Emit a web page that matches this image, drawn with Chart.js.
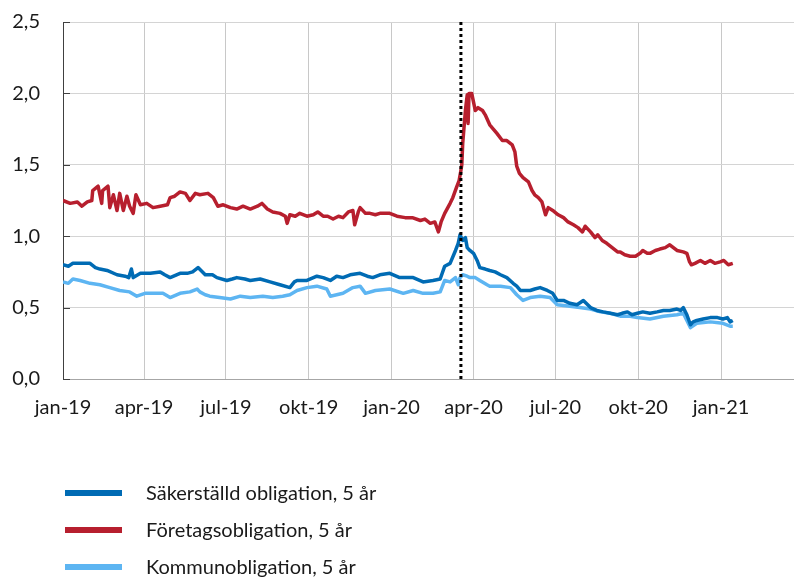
<!DOCTYPE html>
<html>
<head>
<meta charset="utf-8">
<script src="https://cdn.jsdelivr.net/npm/chart.js@4.4.1/dist/chart.umd.min.js"></script>
<style>
html,body{margin:0;padding:0;background:#fff;overflow:hidden}
canvas{display:block}
</style>
</head>
<body>
<canvas id="c" width="794" height="578"></canvas>
<script>
// x values: days since 2019-01-01
const tickDays   = [0, 90, 181, 273, 365, 456, 547, 639, 731];
const tickLabels = ['jan-19','apr-19','jul-19','okt-19','jan-20','apr-20','jul-20','okt-20','jan-21'];
const yTicks     = [0, 0.5, 1.0, 1.5, 2.0, 2.5];
const markerDay  = 442; // dotted line, mid March 2020

const seriesNames = ['Säkerställd obligation, 5 år', 'Företagsobligation, 5 år', 'Kommunobligation, 5 år'];

const sakDays = [0,6,11,19,30,36,41,49,60,69,73,76,78,86,97,108,113,119,130,138,144,150,158,166,171,182,188,193,202,208,219,230,241,252,257,260,271,282,289,297,304,311,319,330,338,344,352,363,374,389,400,411,419,424,430,436,439,441,444,447,449,452,456,460,463,469,474,480,486,493,500,504,508,513,519,524,530,538,544,549,556,563,571,578,586,593,600,608,616,621,627,632,638,644,652,660,667,674,682,686,689,693,697,700,704,711,719,727,733,738,741,744];
const sakVals = [0.80,0.79,0.81,0.81,0.81,0.78,0.77,0.76,0.73,0.72,0.71,0.77,0.71,0.74,0.74,0.75,0.73,0.71,0.74,0.74,0.75,0.78,0.73,0.73,0.71,0.69,0.70,0.71,0.70,0.69,0.70,0.68,0.66,0.64,0.68,0.69,0.69,0.72,0.71,0.69,0.72,0.71,0.73,0.74,0.72,0.71,0.73,0.74,0.71,0.71,0.68,0.69,0.70,0.79,0.81,0.90,0.95,1.01,0.97,0.99,0.92,0.90,0.88,0.83,0.78,0.77,0.76,0.75,0.73,0.71,0.67,0.65,0.62,0.62,0.62,0.63,0.64,0.62,0.60,0.55,0.55,0.53,0.52,0.55,0.50,0.48,0.47,0.46,0.45,0.46,0.47,0.45,0.46,0.47,0.46,0.47,0.48,0.48,0.49,0.48,0.50,0.45,0.38,0.40,0.41,0.42,0.43,0.43,0.42,0.43,0.40,0.41];

const forDays = [0,8,16,21,27,32,33,39,43,44,50,52,56,60,63,67,71,74,78,81,86,93,100,108,116,119,124,130,136,141,147,152,161,167,172,178,186,193,200,208,216,221,227,233,241,247,249,252,258,263,271,278,283,289,294,300,306,311,317,322,324,328,330,336,341,347,352,358,363,371,380,388,397,402,408,413,417,420,424,430,433,437,440,442,443,444,447,449,450,451,454,458,461,466,469,474,482,488,493,499,502,504,507,511,517,521,524,528,532,536,539,544,550,556,561,567,572,577,580,586,591,594,599,604,610,616,619,624,630,636,641,644,649,652,658,663,669,674,678,682,689,693,696,698,702,708,713,719,724,730,734,739,744];
const forVals = [1.25,1.23,1.24,1.21,1.24,1.25,1.32,1.35,1.23,1.32,1.35,1.20,1.29,1.18,1.30,1.18,1.28,1.21,1.16,1.29,1.22,1.23,1.20,1.21,1.22,1.27,1.28,1.31,1.30,1.25,1.30,1.29,1.30,1.27,1.21,1.22,1.20,1.19,1.21,1.19,1.21,1.23,1.19,1.17,1.16,1.14,1.09,1.15,1.14,1.16,1.14,1.15,1.17,1.14,1.14,1.12,1.14,1.13,1.17,1.18,1.08,1.17,1.20,1.16,1.16,1.15,1.16,1.16,1.16,1.14,1.13,1.13,1.11,1.12,1.09,1.10,1.03,1.10,1.16,1.23,1.27,1.34,1.39,1.46,1.50,1.65,1.88,1.99,1.79,2.00,2.00,1.88,1.90,1.88,1.85,1.78,1.72,1.67,1.67,1.64,1.59,1.49,1.44,1.41,1.38,1.32,1.29,1.27,1.24,1.15,1.20,1.18,1.15,1.13,1.10,1.08,1.06,1.03,1.07,1.03,0.99,1.01,0.97,0.95,0.92,0.89,0.89,0.87,0.86,0.86,0.88,0.90,0.88,0.88,0.90,0.91,0.92,0.94,0.92,0.90,0.89,0.88,0.82,0.80,0.81,0.83,0.81,0.83,0.81,0.82,0.83,0.80,0.81];

const komDays = [0,6,11,19,30,41,52,63,74,82,91,102,111,119,130,141,149,152,158,163,174,186,197,208,222,233,244,252,260,271,282,293,297,304,311,322,330,336,347,363,378,389,400,411,419,424,430,436,439,441,444,449,452,458,463,471,474,486,497,504,511,519,530,541,549,563,574,586,597,608,619,630,638,652,667,682,689,693,697,704,719,733,741,744];
const komVals = [0.68,0.67,0.70,0.69,0.67,0.66,0.64,0.62,0.61,0.58,0.60,0.60,0.60,0.57,0.60,0.61,0.63,0.61,0.59,0.58,0.57,0.56,0.58,0.57,0.58,0.57,0.58,0.59,0.62,0.64,0.65,0.63,0.58,0.59,0.60,0.64,0.65,0.60,0.62,0.63,0.60,0.62,0.60,0.60,0.61,0.69,0.68,0.71,0.66,0.71,0.73,0.72,0.71,0.71,0.69,0.66,0.65,0.65,0.64,0.59,0.55,0.57,0.58,0.57,0.52,0.51,0.50,0.49,0.47,0.46,0.44,0.44,0.43,0.42,0.44,0.45,0.46,0.41,0.36,0.39,0.40,0.39,0.37,0.37];

const colSak = '#006bb4';
const colFor = '#b71f2e';
const colKom = '#5db5f2';
const FONT = 'Lato, "Liberation Sans", sans-serif';

function pts(xs, ys){ return xs.map((x,i)=>({x:x, y:ys[i]})); }

const legendPlugin = {
  id:'customLegend',
  afterDraw(chart){
    const ctx = chart.ctx;
    const items = chart.data.datasets.filter(d=>d.inLegend);
    ctx.save();
    items.forEach((d,i)=>{
      const y = 493 + i*37;
      ctx.strokeStyle = d.borderColor;
      ctx.lineWidth = 6;
      ctx.lineCap = 'butt';
      ctx.beginPath(); ctx.moveTo(65,y); ctx.lineTo(122,y); ctx.stroke();
      ctx.fillStyle = '#1a1a1a';
      ctx.font = '20px ' + FONT;
      ctx.textBaseline = 'middle';
      ctx.textAlign = 'left';
      ctx.fillText(d.label, 146, y+1);
    });
    ctx.restore();
  }
};

const innerTicks = {
  id:'innerTicks',
  afterDatasetsDraw(chart){
    const ys = chart.scales.y, ctx = chart.ctx, a = chart.chartArea;
    ctx.save();
    ctx.strokeStyle = '#404040'; ctx.lineWidth = 1;
    ys.ticks.forEach(t=>{
      const py = Math.round(ys.getPixelForValue(t.value))+0.5;
      ctx.beginPath(); ctx.moveTo(a.left, py); ctx.lineTo(a.left+7, py); ctx.stroke();
    });
    ctx.restore();
  }
};

new Chart(document.getElementById('c'), {
  type:'line',
  data:{
    datasets:[
      {label:'marker', data:[{x:markerDay,y:0},{x:markerDay,y:2.5}], borderColor:'#000', borderWidth:3, borderDash:[3,3], order:0, inLegend:false},
      {label:seriesNames[0], data:pts(sakDays,sakVals), borderColor:colSak, borderWidth:3.5, order:1, inLegend:true},
      {label:seriesNames[1], data:pts(forDays,forVals), borderColor:colFor, borderWidth:3.5, order:2, inLegend:true},
      {label:seriesNames[2], data:pts(komDays,komVals), borderColor:colKom, borderWidth:3.5, order:3, inLegend:true}
    ]
  },
  options:{
    responsive:false, animation:false,
    layout:{autoPadding:false, padding:{top:22, right:0, bottom:158, left:0}},
    elements:{point:{radius:0}, line:{tension:0, borderJoinStyle:'round'}},
    plugins:{legend:{display:false}, tooltip:{enabled:false}},
    scales:{
      x:{
        type:'linear', min:0, max:812,
        afterBuildTicks(s){ s.ticks = tickDays.map(v=>({value:v})); },
        afterFit(s){ s.height = 41; s.paddingLeft = 0; s.paddingRight = 0; },
        ticks:{autoSkip:false, maxRotation:0, padding:17, color:'#1a1a1a', font:{family:FONT, size:20},
          callback(v){ const i = tickDays.indexOf(v); return i>=0 ? tickLabels[i] : ''; }},
        grid:{color:'#c8c8c8', lineWidth:1, drawTicks:false},
        border:{color:'#a6a6a6', width:1}
      },
      y:{
        min:0, max:2.5,
        afterBuildTicks(s){ s.ticks = yTicks.map(v=>({value:v})); },
        afterFit(s){ s.width = 63; s.paddingTop = 0; s.paddingBottom = 0; },
        ticks:{padding:23, color:'#1a1a1a', font:{family:FONT, size:20},
          callback(v){ return v.toFixed(1).replace('.', ','); }},
        grid:{color:'#d4d4d4', lineWidth:1, drawTicks:false},
        border:{color:'#404040', width:1}
      }
    }
  },
  plugins:[innerTicks, legendPlugin]
});
</script>
</body>
</html>
